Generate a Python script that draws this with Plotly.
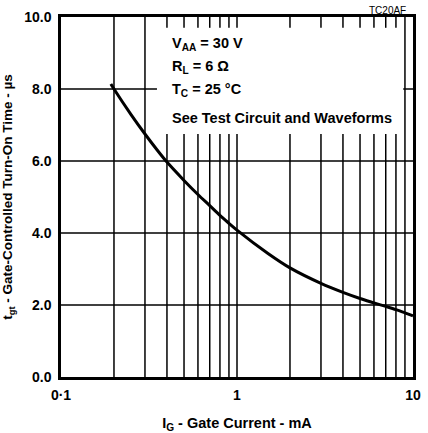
import plotly.graph_objects as go

# Curve data
ig_ma = [0.192, 0.2, 0.25, 0.3, 0.35, 0.4, 0.5, 0.6, 0.7, 0.8, 0.9, 1.0, 1.5, 2.0, 3.0, 4.0, 5.0, 6.0, 7.0, 8.0, 9.0, 10.0]
tgt_us = [8.14, 8.0, 7.29, 6.75, 6.32, 5.97, 5.46, 5.07, 4.76, 4.49, 4.27, 4.08, 3.43, 3.03, 2.6, 2.35, 2.18, 2.06, 1.96, 1.87, 1.78, 1.70]

x_ticks = [0.1, 1, 10]
x_ticktext = ["0·1", "1", "10"]
y_ticks = [0, 2, 4, 6, 8, 10]
y_ticktext = ["0.0", "2.0", "4.0", "6.0", "8.0", "10.0"]

x_grid = [0.2, 0.3, 0.4, 0.5, 0.6, 0.7, 0.8, 0.9, 1, 2, 3, 4, 5, 6, 7, 8, 9]
y_grid = [2, 4, 6, 8]

# Region of the note box (grid interrupted there)
box_x = (0.351, 8.8)
box_y = (6.75, 9.7)

notes = ["V<sub>AA</sub> = 30 V", "R<sub>L</sub> = 6 Ω", "T<sub>C</sub> = 25 °C", "See Test Circuit and Waveforms"]
note_y_px = [44, 67, 90, 118]

gx, gy = [], []
for v in x_grid:
    if box_x[0] < v < box_x[1]:
        gx += [v, v, None, v, v, None]
        gy += [0, box_y[0], None, box_y[1], 10, None]
    else:
        gx += [v, v, None]
        gy += [0, 10, None]
for h in y_grid:
    if box_y[0] < h < box_y[1]:
        gx += [0.1, box_x[0], None, box_x[1], 10, None]
        gy += [h, h, None, h, h, None]
    else:
        gx += [0.1, 10, None]
        gy += [h, h, None]

fig = go.Figure()
fig.add_trace(go.Scatter(x=gx, y=gy, mode="lines", line=dict(color="black", width=1.5),
                         hoverinfo="skip", showlegend=False))
fig.add_trace(go.Scatter(x=ig_ma, y=tgt_us, mode="lines", line=dict(color="black", width=3, shape="spline", smoothing=0.8),
                         showlegend=False))

font_b = dict(family="Liberation Sans", size=14, color="black", weight="bold")
font_note = dict(family="Liberation Sans", size=14.5, color="black", weight="bold")
font_title = dict(family="Liberation Sans", size=14.5, color="black", weight="bold")
font_ytitle = dict(family="Liberation Sans", size=13.5, color="black", weight="bold")

W, H = 428, 433
L, R, T, B = 61, 15, 17, 56

for txt, ypx in zip(notes, note_y_px):
    fig.add_annotation(text=txt, xref="paper", yref="paper",
                       x=(170 - L) / (W - L - R), y=1 - (ypx - T) / (H - T - B),
                       xanchor="left", yanchor="middle", showarrow=False, font=font_note)

fig.add_annotation(text="TC20AF", xref="paper", yref="paper",
                   x=(408 - L) / (W - L - R), y=1 + (T - 10) / (H - T - B),
                   xanchor="right", yanchor="middle", showarrow=False,
                   font=dict(family="Liberation Sans", size=10, color="black"))

fig.update_layout(
    width=W, height=H,
    margin=dict(l=L, r=R, t=T, b=B),
    paper_bgcolor="white", plot_bgcolor="white",
    xaxis=dict(type="log", range=[-1, 1], tickvals=x_ticks, ticktext=x_ticktext, automargin=False,
               showgrid=False, zeroline=False, showline=True, linecolor="black", linewidth=2.5,
               mirror=True, ticks="", tickfont=font_b, ticklabelstandoff=3,
               title=dict(text="I<sub>G</sub> - Gate Current - mA", font=font_title, standoff=20)),
    yaxis=dict(range=[0, 10], tickvals=y_ticks, ticktext=y_ticktext, automargin=False,
               showgrid=False, zeroline=False, showline=True, linecolor="black", linewidth=2.5,
               mirror=True, ticks="", tickfont=font_b, ticklabelstandoff=4,
               title=dict(text="t<sub>gt</sub> - Gate-Controlled Turn-On Time - µs", font=font_ytitle, standoff=10)),
)

fig.write_html("out.html")
